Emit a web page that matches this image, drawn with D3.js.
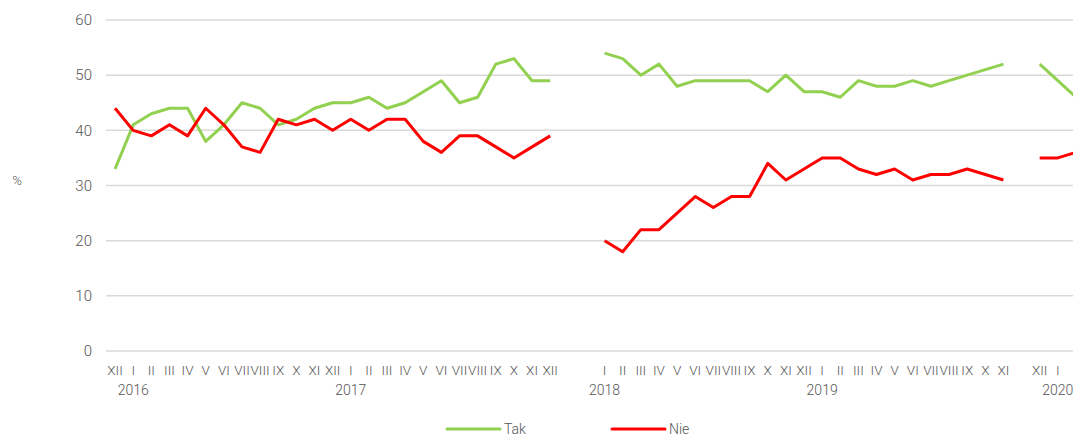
<!DOCTYPE html>
<html>
<head>
<meta charset="utf-8">
<script src="https://cdn.jsdelivr.net/npm/d3@7"></script>
<style>
  body { margin: 0; background: #fff; }
  text { font-family: Roboto, "Noto Sans", sans-serif; font-weight: 300; fill: #555555; }
</style>
</head>
<body>
<script>
// month labels, "" = empty slot between survey periods
var months = ["XII",
  "I","II","III","IV","V","VI","VII","VIII","IX","X","XI","XII",
  "I","II","III","IV","V","VI","VII","VIII","IX","X","XI","XII",
  "","",
  "I","II","III","IV","V","VI","VII","VIII","IX","X","XI","XII",
  "I","II","III","IV","V","VI","VII","VIII","IX","X","XI",
  "",
  "XII","I","II"]

// one year label under every "I"
var years = ["2016","2017","2018","2019","2020"]

var tak = [33,
  41,43,44,44,38,41,45,44,41,42,44,45,
  45,46,44,45,47,49,45,46,52,53,49,49,
  null,null,
  54,53,50,52,48,49,49,49,49,47,50,47,
  47,46,49,48,48,49,48,49,50,51,52,
  null,
  52,49,46]

var nie = [44,
  40,39,41,39,44,41,37,36,42,41,42,40,
  42,40,42,42,38,36,39,39,37,35,37,39,
  null,null,
  20,18,22,22,25,28,26,28,28,34,31,33,
  35,35,33,32,33,31,32,32,33,32,31,
  null,
  35,35,36]

var yTicks = [0,10,20,30,40,50,60]

var width = 1073, height = 436

var svg = d3.select("body").append("svg").attr("width", width).attr("height", height)

var step = 18.13
var left = 106
var x = d3.scaleBand()
  .domain(d3.range(months.length))
  .range([left, left + step * months.length])
  .paddingInner(0).paddingOuter(0)

var y = d3.scaleLinear().domain([0, 60]).range([351, 20])

// grid
svg.append("g")
  .selectAll("line")
  .data(yTicks)
  .enter()
  .append("line")
  .attr("x1", left)
  .attr("x2", width)
  .attr("y1", d => y(d))
  .attr("y2", d => y(d))
  .attr("stroke", "#d9d9d9")
  .attr("stroke-width", 1.5)

// y labels
svg.append("g")
  .selectAll("text")
  .data(yTicks)
  .enter()
  .append("text")
  .attr("x", 92)
  .attr("y", d => y(d))
  .attr("dy", "0.35em")
  .attr("text-anchor", "end")
  .attr("font-size", 15)
  .text(d => d)

svg.append("text")
  .attr("x", 17)
  .attr("y", 185)
  .attr("text-anchor", "middle")
  .attr("font-size", 13)
  .text("%")

var cx = i => x(i) + x.bandwidth() / 2

// month labels
svg.append("g")
  .selectAll("text")
  .data(months)
  .enter()
  .append("text")
  .attr("x", (d, i) => cx(i))
  .attr("y", 375)
  .attr("text-anchor", "middle")
  .attr("font-size", 13.5)
  .text(d => d)

// year labels
var yearIdx = []
months.forEach((m, i) => { if (m == "I") yearIdx.push(i) })
svg.append("g")
  .selectAll("text")
  .data(years)
  .enter()
  .append("text")
  .attr("x", (d, i) => cx(yearIdx[i]))
  .attr("y", 395)
  .attr("text-anchor", "middle")
  .attr("font-size", 14)
  .text(d => d)

var line = d3.line()
  .defined(d => d != null)
  .x((d, i) => cx(i))
  .y(d => y(d))

var series = [
  { name: "Tak", values: tak, color: "#92d050" },
  { name: "Nie", values: nie, color: "#ff0000" }
]

series.forEach(s => {
  svg.append("path")
    .attr("d", line(s.values))
    .attr("fill", "none")
    .attr("stroke", s.color)
    .attr("stroke-width", 3)
    .attr("stroke-linejoin", "round")
})

// legend
var legendX = [447, 612]
series.forEach((s, i) => {
  svg.append("line")
    .attr("x1", legendX[i])
    .attr("x2", legendX[i] + 53)
    .attr("y1", 429)
    .attr("y2", 429)
    .attr("stroke", s.color)
    .attr("stroke-width", 3)
    .attr("stroke-linecap", "round")
  svg.append("text")
    .attr("x", legendX[i] + 57)
    .attr("y", 429)
    .attr("dy", "0.35em")
    .attr("font-size", 14)
    .text(s.name)
})
</script>
</body>
</html>
